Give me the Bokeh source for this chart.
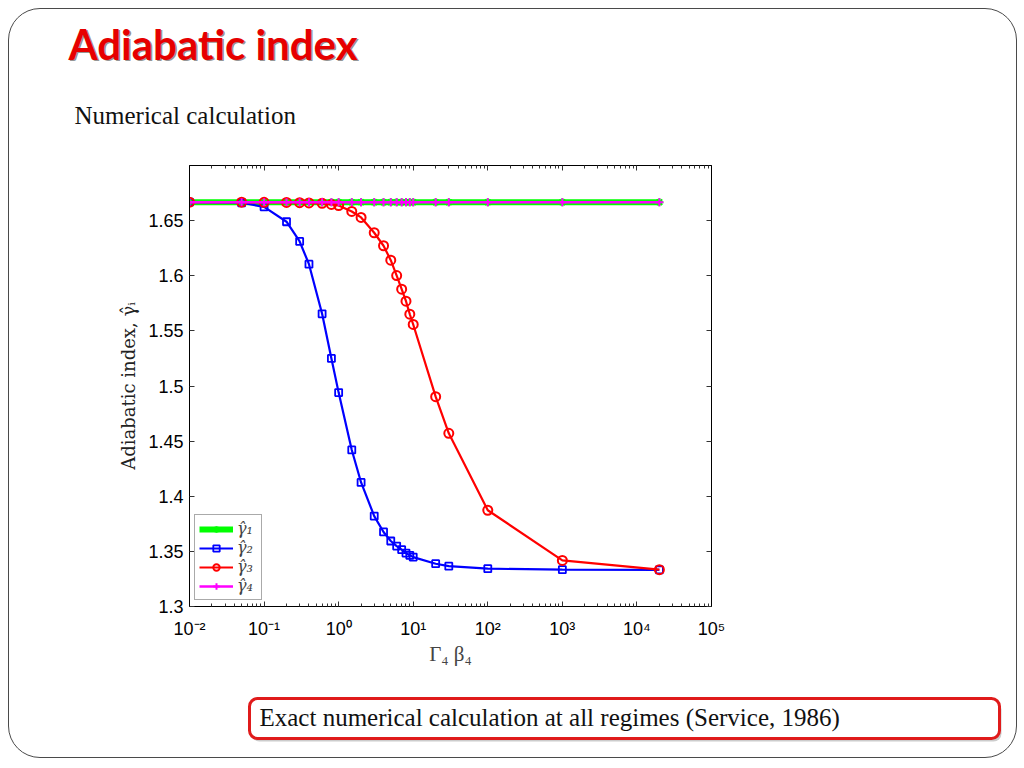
from bokeh.plotting import figure
from bokeh.layouts import column
from bokeh.models import (LogAxis, LinearAxis, FixedTicker, BoxAnnotation,
                          Legend, LegendItem, Range1d)
from bokeh.core.properties import value
from bokeh.embed import file_html
from bokeh.resources import INLINE

# ---------------- data ----------------
gamma_beta = [0.01, 0.05, 0.1, 0.2, 0.3, 0.4, 0.6, 0.8, 1, 1.5, 2, 3, 4, 5, 6, 7, 8, 9,
              10, 20, 30, 100, 1000, 20000]
gamma1 = [1.6667, 1.6667, 1.6667, 1.6667, 1.6667, 1.6667, 1.6667, 1.6667, 1.6667, 1.6667,
          1.6667, 1.6667, 1.6667, 1.6667, 1.6667, 1.6667, 1.6667, 1.6667, 1.6667, 1.6667,
          1.6667, 1.6667, 1.6667, 1.6667]
gamma2 = [1.6667, 1.6662, 1.6625, 1.6490, 1.6311, 1.6105, 1.5655, 1.5250, 1.4940, 1.4420,
          1.4125, 1.3820, 1.3676, 1.3594, 1.3548, 1.3515, 1.3485, 1.3464, 1.3448, 1.3388,
          1.3366, 1.3343, 1.3334, 1.3333]
gamma3 = [1.6667, 1.6667, 1.6666, 1.6665, 1.6663, 1.6660, 1.6657, 1.6647, 1.6637, 1.6583,
          1.6529, 1.6390, 1.6272, 1.6141, 1.6002, 1.5878, 1.5769, 1.5651, 1.5558, 1.4903,
          1.4571, 1.3873, 1.3418, 1.3334]
gamma4 = [1.6667, 1.6667, 1.6667, 1.6667, 1.6667, 1.6667, 1.6667, 1.6667, 1.6667, 1.6667,
          1.6667, 1.6667, 1.6667, 1.6667, 1.6667, 1.6667, 1.6667, 1.6667, 1.6667, 1.6667,
          1.6667, 1.6667, 1.6667, 1.6667]
series_labels = ["\u03b3\u0302\u2081", "\u03b3\u0302\u2082", "\u03b3\u0302\u2083", "\u03b3\u0302\u2084"]

x_ticks = [1e-2, 1e-1, 1e0, 1e1, 1e2, 1e3, 1e4, 1e5]
x_tick_labels = ["10\u207b\u00b2", "10\u207b\u00b9", "10\u2070", "10\u00b9", "10\u00b2",
                 "10\u00b3", "10\u2074", "10\u2075"]
x_minor = [m * d for d in [1e-2, 1e-1, 1e0, 1e1, 1e2, 1e3, 1e4] for m in range(2, 10)]
y_ticks = [1.3, 1.35, 1.4, 1.45, 1.5, 1.55, 1.6, 1.65]
y_tick_labels = ["1.3", "1.35", "1.4", "1.45", "1.5", "1.55", "1.6", "1.65"]

slide_title = "Adiabatic index"
slide_subtitle = "Numerical calculation"
slide_note = "Exact numerical calculation at all regimes (Service, 1986)"
x_label = "\u0393\u2084 \u03b2\u2084"
y_label = "Adiabatic index, \u03b3\u0302\u1d62"

# ---------------- layout sizes ----------------
CW = 1007                   # inner content width
H1, H2, H3 = 141, 530, 77   # header / chart / footer heights


def blank_panel(h):
    f = figure(width=CW, height=h, x_range=Range1d(0, CW), y_range=Range1d(h, 0),
               min_border=0, min_border_left=0, min_border_right=0,
               min_border_top=0, min_border_bottom=0,
               x_axis_location=None, y_axis_location=None,
               toolbar_location=None, output_backend="svg")
    f.frame_align = False
    f.outline_line_color = None
    f.background_fill_color = None
    f.border_fill_color = None
    f.grid.visible = False
    return f


# ---------------- header ----------------
head = blank_panel(H1)
head.text(x=[60.5], y=[35.5], text=[slide_title], text_font=value("Lato"),
          text_font_style="bold", text_font_size="42px", text_color="#3a3a3a",
          text_alpha=0.55, text_baseline="alphabetic")
head.text(x=[59], y=[34], text=[slide_title], text_font=value("Lato"),
          text_font_style="bold", text_font_size="42px", text_color="#e60000",
          text_baseline="alphabetic")
head.text(x=[65], y=[106], text=[slide_subtitle], text_font=value("Liberation Serif"),
          text_font_size="25px", text_color="#111111", text_baseline="alphabetic")

# ---------------- chart ----------------
p = figure(width=CW, height=H2, x_axis_type="log",
           x_range=Range1d(1e-2, 1e5), y_range=Range1d(1.3, 1.7),
           output_backend="svg", toolbar_location=None,
           min_border_left=180, min_border_right=305,
           min_border_top=15, min_border_bottom=74)
p.frame_align = False
p.border_fill_color = None
p.background_fill_color = "white"
p.outline_line_color = "black"
p.outline_line_width = 1
p.xgrid.visible = False
p.ygrid.visible = False

xt = FixedTicker(ticks=x_ticks, minor_ticks=x_minor)
yt = FixedTicker(ticks=y_ticks, minor_ticks=[])


def style_axis(ax, show_labels):
    ax.axis_line_color = "black"
    ax.major_tick_in = 5
    ax.major_tick_out = 0
    ax.minor_tick_in = 3
    ax.minor_tick_out = 0
    ax.major_tick_line_color = "#333333"
    ax.minor_tick_line_color = "#333333"
    ax.major_label_text_font = "Liberation Sans"
    ax.major_label_text_color = "black"
    if show_labels:
        ax.major_label_text_font_size = "18px"
    else:
        ax.major_label_text_font_size = "0px"
        ax.major_label_text_alpha = 0


xa = p.xaxis[0]
xa.ticker = xt
xa.major_label_overrides = dict(zip(x_ticks, x_tick_labels))
style_axis(xa, True)
xa.major_label_standoff = 12
xa.axis_label = x_label
xa.axis_label_text_font = "Liberation Serif"
xa.axis_label_text_font_style = "normal"
xa.axis_label_text_font_size = "21px"
xa.axis_label_standoff = 0

ya = p.yaxis[0]
ya.ticker = yt
ya.major_label_overrides = dict(zip(y_ticks, y_tick_labels))
style_axis(ya, True)
ya.major_label_standoff = 6
ya.axis_label = y_label
ya.axis_label_text_font = "DejaVu Serif"
ya.axis_label_text_font_style = "normal"
ya.axis_label_text_font_size = "18px"
ya.axis_label_text_color = "#222222"
ya.axis_label_standoff = 6

top_ax = LogAxis(ticker=xt)
style_axis(top_ax, False)
p.add_layout(top_ax, "above")
right_ax = LinearAxis(ticker=yt)
style_axis(right_ax, False)
p.add_layout(right_ax, "right")

l1 = p.line(gamma_beta, gamma1, line_color="#00ff00", line_width=6)
s1 = p.scatter(gamma_beta, gamma1, marker="asterisk", size=8, line_color="#00ff00", line_width=2)
l2 = p.line(gamma_beta, gamma2, line_color="#0000ff", line_width=2.2)
s2 = p.scatter(gamma_beta, gamma2, marker="square", size=7, line_color="#0000ff",
               line_width=1.8, fill_color=None)
l3 = p.line(gamma_beta, gamma3, line_color="#ff0000", line_width=2.2)
s3 = p.scatter(gamma_beta, gamma3, marker="circle", size=9, line_color="#ff0000",
               line_width=2, fill_color=None)
l4 = p.line(gamma_beta, gamma4, line_color="#ff00ff", line_width=2.5)
s4 = p.scatter(gamma_beta, gamma4, marker="cross", size=8, line_color="#ff00ff", line_width=2)

legend = Legend(items=[LegendItem(label=series_labels[0], renderers=[l1, s1]),
                       LegendItem(label=series_labels[1], renderers=[l2, s2]),
                       LegendItem(label=series_labels[2], renderers=[l3, s3]),
                       LegendItem(label=series_labels[3], renderers=[l4, s4])],
                location=(5, 6), orientation="vertical")
legend.label_text_font = "DejaVu Serif"
legend.label_text_font_style = "italic"
legend.label_text_font_size = "16px"
legend.glyph_width = 34
legend.glyph_height = 16
legend.label_height = 16
legend.spacing = 0
legend.padding = 4
legend.margin = 0
legend.label_standoff = 4
legend.border_line_color = "#555555"
legend.border_line_width = 1
legend.background_fill_color = "white"
legend.background_fill_alpha = 1
p.add_layout(legend, "center")

# ---------------- footer ----------------
foot = blank_panel(H3)
foot.add_layout(BoxAnnotation(left=242, right=992, top=21, bottom=61,
                              fill_color="#9a9a9a", fill_alpha=0.5, line_color=None,
                              border_radius=8))
foot.add_layout(BoxAnnotation(left=240, right=990, top=18, bottom=58,
                              fill_color="white", fill_alpha=1, line_color="#e01b1b",
                              line_alpha=1, line_width=3, border_radius=8))
foot.text(x=[250], y=[37], text=[slide_note], text_font=value("Liberation Serif"),
          text_font_size="25px", text_color="#111111", text_baseline="alphabetic",
          level="overlay")

page = column(head, p, foot, spacing=0, margin=(8, 0, 0, 8))
page.styles = {"border": "1px solid #4a4a4a", "border-radius": "32px"}

open("out.html", "w").write(file_html(page, INLINE))
